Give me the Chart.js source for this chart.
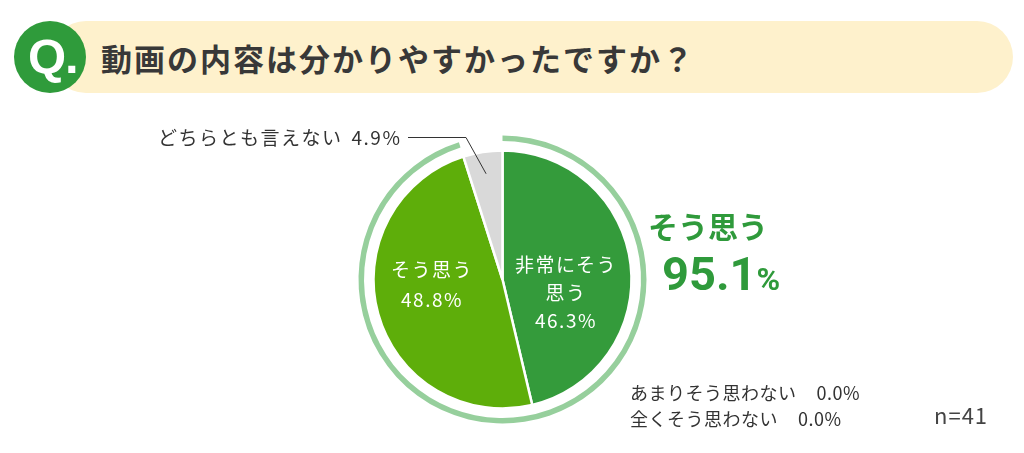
<!DOCTYPE html>
<html lang="ja">
<head>
<meta charset="utf-8">
<script src="https://cdn.jsdelivr.net/npm/chart.js@4"></script>
<style>
  body { margin: 0; background: #fff; font-family: "Noto Sans CJK JP", sans-serif; }
  #wrap { position: relative; width: 1024px; height: 453px; overflow: hidden; }
  #chartBox { position: absolute; left: 0; top: 0; width: 1024px; height: 453px; }
  #pill { position: absolute; left: 50px; top: 21px; width: 963px; height: 72px; background: #fef1cc; border-radius: 36px; }
  #qmark { position: absolute; left: 14px; top: 21px; width: 72px; height: 72px; border-radius: 50%; background: #2f9b3b; }
  #qmark span { position: absolute; left: 14px; top: 5px; color: #fff; font: bold 49px "Liberation Sans Narrow", "Liberation Sans", sans-serif; line-height: 60px; letter-spacing: -1px; }
  #title { position: absolute; left: 101px; top: 57px; transform: translateY(-50%); font-size: 31px; font-weight: 700; color: #383838; letter-spacing: 2px; white-space: nowrap; }
  .t { position: absolute; white-space: nowrap; color: #333; }
  .c { transform: translate(-50%, -50%); text-align: center; }
  .slice { color: #fff; font-size: 19px; letter-spacing: 1.5px; }
</style>
</head>
<body>
<div id="wrap">
  <div id="pill"></div>
  <div id="qmark"><span>Q.</span></div>
  <div id="title"></div>
  <div id="chartBox"><canvas id="pie"></canvas></div>
  <div id="labels"></div>
</div>
<script>
// question + answers
const question = "動画の内容は分かりやすかったですか？";
const categories = ["非常にそう思う", "そう思う", "どちらとも言えない", "あまりそう思わない", "全くそう思わない"];
const values = [46.3, 48.8, 4.9, 0.0, 0.0];
const colors = ["#349b3b", "#5eae0a", "#d9d9d9", "#d9d9d9", "#d9d9d9"];

// outer ring = total of the two "agree" answers
const ringLabel = "そう思う";
const ringValues = [95.1, 4.9];
const sampleSize = 41;

document.getElementById("title").textContent = question;

const leaderLine = {
  id: "leaderLine",
  afterDatasetsDraw(chart) {
    const arc = chart.getDatasetMeta(2).data[2];
    if (!arc) return;
    const mid = (arc.startAngle + arc.endAngle) / 2;
    const ctx = chart.ctx;
    ctx.save();
    ctx.strokeStyle = "#333";
    ctx.lineWidth = 1;
    ctx.beginPath();
    ctx.moveTo(arc.x + Math.cos(mid) * 107, arc.y + Math.sin(mid) * 107);
    ctx.lineTo(466, 137.5);
    ctx.lineTo(408, 137.5);
    ctx.stroke();
    ctx.restore();
  }
};

new Chart(document.getElementById("pie"), {
  type: "doughnut",
  data: {
    labels: categories,
    datasets: [
      {
        label: ringLabel,
        data: ringValues,
        backgroundColor: ["#96cf9c", "rgba(0,0,0,0)"],
        borderWidth: 0,
        weight: 5.5
      },
      {
        label: "spacer",
        data: [100],
        backgroundColor: ["rgba(0,0,0,0)"],
        borderWidth: 0,
        weight: 9.5
      },
      {
        label: "回答",
        data: values,
        backgroundColor: colors,
        borderColor: "#fff",
        borderWidth: 2.5,
        weight: 129
      }
    ]
  },
  plugins: [leaderLine],
  options: {
    responsive: true,
    maintainAspectRatio: false,
    animation: false,
    events: [],
    cutout: 0,
    radius: 144,
    layout: { padding: { left: 0, right: 19, top: 106, bottom: 0 } },
    plugins: {
      legend: { display: false },
      tooltip: { enabled: false }
    }
  }
});

// text overlays
const labels = document.getElementById("labels");
function addText(html, cls, style) {
  const d = document.createElement("div");
  d.className = "t " + cls;
  d.innerHTML = html;
  Object.assign(d.style, style);
  labels.appendChild(d);
}
const pct = v => v.toFixed(1) + "%";

addText("非常にそう<br>思う<br>" + pct(values[0]), "c slice", { left: "566px", top: "292px", lineHeight: "28px" });
addText(categories[1] + "<br>" + pct(values[1]), "c slice", { left: "432px", top: "284px", lineHeight: "30px" });
addText(categories[2] + "<span style='margin-left:9px'>" + pct(values[2]) + "</span>", "",
  { left: "158px", top: "124px", fontSize: "19px", lineHeight: "26px", letterSpacing: "1.5px" });

addText(ringLabel, "", { left: "648px", top: "204px", fontSize: "30px", fontWeight: "700", color: "#2f9a3b", lineHeight: "42px" });
addText("<span style='font-size:47px'>" + ringValues[0].toFixed(1) + "</span><span style='font-size:32px'>%</span>", "",
  { left: "662px", top: "246px", fontFamily: "Roboto, sans-serif", fontWeight: "700", color: "#2f9a3b", lineHeight: "56px" });

addText(categories[3] + "<span style='margin-left:20px'>" + pct(values[3]) + "</span>", "",
  { left: "630px", top: "380px", fontSize: "18px", lineHeight: "24px", letterSpacing: "0.5px" });
addText(categories[4] + "<span style='margin-left:20px'>" + pct(values[4]) + "</span>", "",
  { left: "630px", top: "406px", fontSize: "18px", lineHeight: "24px", letterSpacing: "0.5px" });
addText("n=" + sampleSize, "", { left: "934px", top: "400px", fontSize: "22px", lineHeight: "28px", color: "#444", letterSpacing: "1px" });
</script>
</body>
</html>
